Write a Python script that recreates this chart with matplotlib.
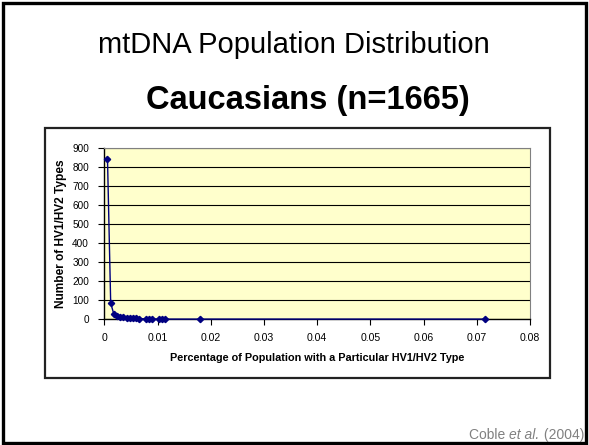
import matplotlib.pyplot as plt
from matplotlib.patches import Rectangle
import numpy as np

plt.rcParams['font.family'] = ['Liberation Sans', 'DejaVu Sans']

# data: x = share of population (k/1665), y = number of HV1/HV2 types
n_people = 1665
counts = [1, 2, 3, 4, 5, 6, 7, 8, 9, 10, 11, 13, 14, 15, 17, 18, 19, 30, 119]
n_types = [840, 85, 26, 18, 11, 10, 8, 7, 6, 5, 4, 2, 2, 2, 1, 1, 1, 1, 1]
x_ticks = [0, 0.01, 0.02, 0.03, 0.04, 0.05, 0.06, 0.07, 0.08]
y_ticks = [0, 100, 200, 300, 400, 500, 600, 700, 800, 900]

share = np.array(counts) / n_people

W, H = 589, 445
fig = plt.figure(figsize=(W / 100, H / 100), dpi=100)

def px(x, y):
    return x / W, 1 - y / H

# slide border
fig.patches.append(Rectangle((2.5 / W, 2.5 / H), 583.5 / W, 439.5 / H, transform=fig.transFigure,
                             fill=False, edgecolor='black', linewidth=2.4))
# chart box
fig.patches.append(Rectangle((45 / W, 1 - 378 / H), 505 / W, 250 / H, transform=fig.transFigure,
                             fill=False, edgecolor='#222222', linewidth=1.6))

fig.text(*px(294, 45), 'mtDNA Population Distribution', fontsize=21, ha='center', va='center')
fig.text(*px(308, 100), 'Caucasians (n=1665)', fontsize=23.5, fontweight='bold',
         ha='center', va='center')

# source note, built from pieces so "et al." can be italic
grey = '#808080'
t_year = fig.text(*px(584, 439), ' (2004)', fontsize=10, color=grey, ha='right', va='baseline')
t_etal = fig.add_artist(plt.Annotation('et al.', xy=(0, 0), xycoords=t_year, ha='right',
                                       va='bottom', fontsize=10, color=grey, style='italic'))
fig.add_artist(plt.Annotation('Coble ', xy=(0, 0), xycoords=t_etal, ha='right', va='bottom',
                              fontsize=10, color=grey))

ax = fig.add_axes([104.3 / W, 1 - 319.3 / H, (530 - 104.3) / W, (319.3 - 147.5) / H])
ax.set_facecolor('#FFFFCC')
ax.plot(share, n_types, color='#000080', linewidth=1, marker='D', markersize=3.2,
        markerfacecolor='#000080', markeredgecolor='#000080', clip_on=False, zorder=3)

ax.set_xlim(0, 0.08)
ax.set_ylim(0, 900)
ax.set_xticks(x_ticks)
ax.set_xticklabels(['0' if v == 0 else '%g' % v for v in x_ticks])
ax.set_yticks(y_ticks)
ax.yaxis.grid(True, color='black', linewidth=0.8)
ax.set_axisbelow(True)
ax.tick_params(length=4, width=0.8, direction='out', colors='black')
ax.tick_params(axis='x', labelsize=7.6, pad=6)
ax.tick_params(axis='y', labelsize=7.2, pad=7)
for s in ['top', 'right']:
    ax.spines[s].set_color('#808080')
for s in ['left', 'bottom']:
    ax.spines[s].set_linewidth(1)

ax.set_xlabel('Percentage of Population with a Particular HV1/HV2 Type', fontsize=7.8,
              fontweight='bold', labelpad=7)
ax.set_ylabel('Number of HV1/HV2 Types', fontsize=8.6, fontweight='bold', labelpad=4)

fig.savefig('out.png', dpi=100)
